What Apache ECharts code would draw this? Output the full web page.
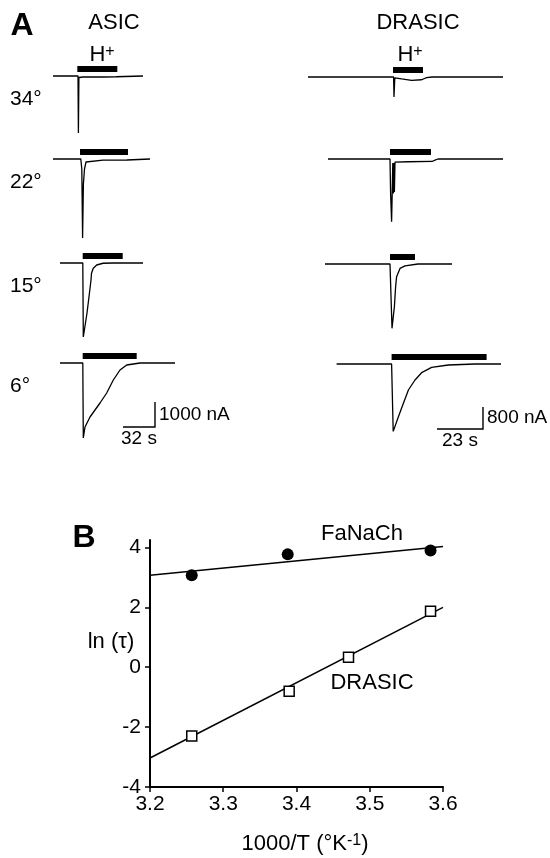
<!DOCTYPE html>
<html>
<head>
<meta charset="utf-8">
<title>ASIC / DRASIC temperature dependence</title>
<script src="https://cdn.jsdelivr.net/npm/echarts@6/dist/echarts.min.js"></script>
<style>
  html, body { margin: 0; padding: 0; background: #fff; }
  #main { width: 550px; height: 858px; }
</style>
</head>
<body>
<div id="main"></div>
<script>
var FONT = '"Liberation Sans", Arial, Helvetica, sans-serif'

// ---- panel A : currents, [time (s), current (nA)] ----
var temps = ['34°', '22°', '15°', '6°']

var asic34 = [[0, 0], [25, 0], [25.4, -2280], [25.9, -60], [30, -40], [50, -40], [63, -30], [65, 0], [90, 0]]
var asic22 = [[0, 0], [27.8, 0], [28.8, -400], [29.6, -3160], [30.4, -1000], [31.5, -400], [33, -120], [35, -60], [50, -45], [74, -40], [76, 0], [97, 0]]
var asic15 = [[7, 0], [29.8, 0], [30.3, -2960], [31, -2900], [34, -2000], [36, -1350], [38, -680], [38.5, -410], [40.3, -210], [43.7, -80], [50, -10], [60, 0], [90, 0]]
var asic6 = [[7, 0], [29.8, 0], [30.3, -3000], [32, -2560], [37, -2160], [47, -1600], [53.7, -1200], [60.3, -680], [67, -280], [73.7, -80], [87, 0], [122, 0]]

var drasic34 = [[0, 0], [42.8, 0], [43, -727], [43.4, -30], [46.8, -70], [51.8, -120], [56.8, -100], [59.3, -20], [62, 0], [97.5, 0]]
var drasic22 = [[10, 0], [41, 0], [41.3, -1250], [41.8, -2280], [42.1, -1250], [42.4, -150], [42.7, -1250], [43, -150], [43.2, -1200], [43.5, -110], [50, -100], [62, -90], [63.5, -40], [65, 0], [97.5, 0]]
var drasic15 = [[8.5, 0], [41, 0], [42, -2340], [42.7, -2300], [43.2, -1550], [43.8, -830], [44.3, -460], [46, -160], [48.5, -70], [55, 0], [72, 0]]
var drasic6 = [[14.3, 0], [41.8, 0], [42.6, -2450], [45.2, -1920], [47.7, -1430], [50.2, -946], [53.5, -582], [56.8, -316], [61.8, -121], [70.2, -36], [83.5, 0], [96.5, 0]]

// H+ application, [start, end] in s
var asicPulse = [[24.3, 64.3], [27, 75], [29.7, 69.7], [29.7, 83.7]]
var drasicPulse = [[42.5, 57.5], [41, 61.5], [41, 53.5], [41.8, 89.3]]

// scale bars [s, nA]
var asicScale = [32, 1000]
var drasicScale = [23, 800]

// ---- panel B : ln(tau) vs 1000/T ----
var fanachPts = [[3.257, 3.07], [3.388, 3.77], [3.583, 3.9]]
var fanachFit = [[3.2, 3.07], [3.6, 4.03]]
var drasicPts = [[3.257, -2.3], [3.39, -0.8], [3.471, 0.33], [3.583, 1.87]]
var drasicFit = [[3.2, -3.03], [3.6, 2.0]]
var yTicks = [-4, -2, 0, 2, 4]

var asicTraces = [asic34, asic22, asic15, asic6]
var drasicTraces = [drasic34, drasic22, drasic15, drasic6]

// layout of the trace grids (px)
var asicTop = [56, 139, 243, 343]
var drasicTop = [57, 139, 244, 344]

var grids = []
var xAxes = []
var yAxes = []
var series = []

function pulseRender(params, api) {
  var a = api.coord([api.value(0), 0])
  var b = api.coord([api.value(1), 0])
  return {
    type: 'rect',
    shape: { x: a[0], y: a[1] - 10, width: b[0] - a[0], height: 6 },
    style: { fill: '#000' }
  }
}

function scaleRender(corner) {
  return function (params, api) {
    var c = api.coord(corner)
    var len = api.size([api.value(0), api.value(1)])
    return {
      type: 'group',
      children: [
        {
          type: 'polyline',
          shape: { points: [[c[0] - len[0], c[1]], [c[0], c[1]], [c[0], c[1] - len[1]]] },
          style: { stroke: '#000', lineWidth: 1.4, fill: null }
        },
        {
          type: 'text', x: c[0] + 4, y: c[1] - len[1] / 2,
          style: { text: api.value(1) + ' nA', fill: '#000', fontSize: 19, fontFamily: FONT, align: 'left', verticalAlign: 'middle' }
        },
        {
          type: 'text', x: c[0] - len[0] / 2, y: c[1] + 2,
          style: { text: api.value(0) + ' s', fill: '#000', fontSize: 19, fontFamily: FONT, align: 'center', verticalAlign: 'top' }
        }
      ]
    }
  }
}

function addColumn(traces, pulses, tops, left, width, xMax, nAperPx, scale, corner) {
  traces.forEach(function (trace, i) {
    var idx = grids.length
    grids.push({ left: left, top: tops[i], width: width, height: 100 })
    xAxes.push({ gridIndex: idx, type: 'value', min: 0, max: xMax, show: false })
    yAxes.push({ gridIndex: idx, type: 'value', min: -80 * nAperPx, max: 20 * nAperPx, show: false })
    series.push({
      type: 'line', xAxisIndex: idx, yAxisIndex: idx, data: trace,
      showSymbol: false, clip: false, silent: true,
      lineStyle: { color: '#000', width: 1.3 }
    })
    series.push({
      type: 'custom', xAxisIndex: idx, yAxisIndex: idx, clip: false, silent: true,
      encode: { x: [0, 1] },
      data: [pulses[i]],
      renderItem: pulseRender
    })
    if (i === traces.length - 1) {
      series.push({
        type: 'custom', xAxisIndex: idx, yAxisIndex: idx, clip: false, silent: true,
        data: [scale],
        renderItem: scaleRender(corner)
      })
    }
  })
}

addColumn(asicTraces, asicPulse, asicTop, 53, 130, 130, 40, asicScale, [102, -2560])
addColumn(drasicTraces, drasicPulse, drasicTop, 308, 200, 100, 800 / 22, drasicScale, [87.5, -2364])

// panel B grid
var bIdx = grids.length
grids.push({ left: 150, top: 540, width: 293, height: 247 })
xAxes.push({
  gridIndex: bIdx, type: 'value', min: 3.2, max: 3.6, interval: 0.1,
  axisLine: { onZero: false, lineStyle: { color: '#000', width: 2 } },
  axisTick: { length: 5, lineStyle: { color: '#000', width: 1.5 } },
  axisLabel: { color: '#000', fontSize: 21, fontFamily: FONT, margin: 7, formatter: function (v) { return v.toFixed(1) } },
  splitLine: { show: false }
})
yAxes.push({
  gridIndex: bIdx, type: 'value', min: -4, max: 4.25, interval: 2,
  axisLine: { onZero: false, lineStyle: { color: '#000', width: 2 } },
  axisTick: { length: 5, customValues: yTicks, lineStyle: { color: '#000', width: 1.5 } },
  axisLabel: { color: '#000', fontSize: 21, fontFamily: FONT, margin: 9, customValues: yTicks },
  splitLine: { show: false }
})

series.push(
  { type: 'line', xAxisIndex: bIdx, yAxisIndex: bIdx, data: fanachFit, showSymbol: false, silent: true, lineStyle: { color: '#000', width: 1.5 }, z: 2 },
  { type: 'scatter', xAxisIndex: bIdx, yAxisIndex: bIdx, data: fanachPts, symbol: 'circle', symbolSize: 12, itemStyle: { color: '#000', opacity: 1 }, z: 3 },
  { type: 'line', xAxisIndex: bIdx, yAxisIndex: bIdx, data: drasicFit, showSymbol: false, silent: true, lineStyle: { color: '#000', width: 1.5 }, z: 2 },
  { type: 'scatter', xAxisIndex: bIdx, yAxisIndex: bIdx, data: drasicPts, symbol: 'rect', symbolSize: 10, itemStyle: { color: '#fff', borderColor: '#000', borderWidth: 1.5, opacity: 1 }, z: 3 }
)

function label(text, x, y, size, opts) {
  var style = { text: text, fill: '#000', fontSize: size, fontFamily: FONT, align: 'center', verticalAlign: 'middle' }
  Object.assign(style, opts || {})
  return { type: 'text', x: x, y: y, silent: true, style: style }
}
var sup = { sup: { fontSize: 16, verticalAlign: 'top', fontFamily: FONT } }

var graphics = [
  label('A', 22, 26, 32, { fontWeight: 'bold' }),
  label('ASIC', 114, 23, 22),
  label('DRASIC', 418, 23, 22),
  label('H{sup|+}', 102, 55, 22, { rich: sup }),
  label('H{sup|+}', 410, 55, 22, { rich: sup }),
  label('B', 84, 538, 32, { fontWeight: 'bold' }),
  label('ln (τ)', 111, 642, 22),
  label('FaNaCh', 362, 534, 22),
  label('DRASIC', 372, 683, 22),
  label('1000/T (°K{sup|-1})', 305, 844, 22, { rich: sup })
]
temps.forEach(function (t, i) {
  graphics.push(label(t, 10, asicTop[i] + 43, 21, { align: 'left' }))
})

var myChart = echarts.init(document.getElementById('main'))
myChart.setOption({
  animation: false,
  backgroundColor: '#fff',
  grid: grids,
  xAxis: xAxes,
  yAxis: yAxes,
  series: series,
  graphic: graphics
})
</script>
</body>
</html>
